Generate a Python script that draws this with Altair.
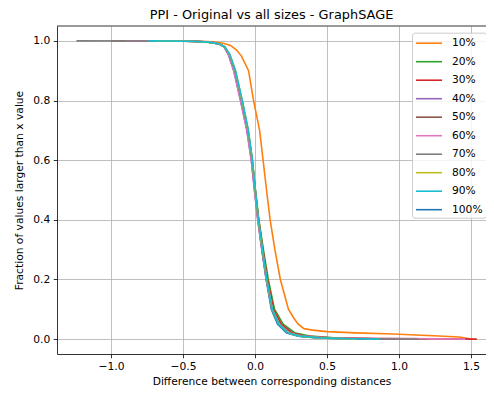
import altair as alt
import pandas as pd

SERIES = ["10%", "20%", "30%", "40%", "50%", "60%", "70%", "80%", "90%", "100%"]
COLORS = ["#ff7f0e", "#2ca02c", "#d62728", "#9467bd", "#8c564b",
          "#e377c2", "#7f7f7f", "#bcbd22", "#17becf", "#1f77b4"]
DRAW_ORDER = ["100%", "10%", "20%", "30%", "40%", "50%", "60%", "70%", "80%", "90%"]

X_TICKS = [-1.0, -0.5, 0.0, 0.5, 1.0, 1.5]
Y_TICKS = [0.0, 0.2, 0.4, 0.6, 0.8, 1.0]

X_10 = [-0.55, -0.38, -0.29, -0.22, -0.17, -0.13, -0.095, -0.045, -0.01, 0.032, 0.056, 0.08,
        0.105, 0.138, 0.176, 0.232, 0.27, 0.30, 0.34, 0.40, 0.50, 0.70, 0.96, 1.20, 1.42, 1.50]
Y_10 = [1.0, 0.999, 0.997, 0.992, 0.985, 0.97, 0.95, 0.9, 0.8, 0.7, 0.6, 0.5,
        0.4, 0.3, 0.2, 0.1, 0.07, 0.05, 0.035, 0.03, 0.025, 0.021, 0.017, 0.012, 0.007, 0.0]

X_20 = [-0.60, -0.42, -0.31, -0.25, -0.212, -0.18, -0.14, -0.093, -0.049, -0.019, 0.003,
        0.027, 0.058, 0.092, 0.135, 0.195, 0.28, 0.38, 0.55, 0.85, 1.20]
Y_20 = [1.0, 0.998, 0.995, 0.99, 0.98, 0.955, 0.9, 0.8, 0.7, 0.6, 0.5,
        0.4, 0.3, 0.2, 0.1, 0.05, 0.02, 0.01, 0.004, 0.001, 0.0]

X_30 = [-0.90, -0.55, -0.40, -0.30, -0.25, -0.212, -0.18, -0.14, -0.094, -0.05, -0.02, 0.002,
        0.025, 0.055, 0.087, 0.128, 0.182, 0.26, 0.35, 0.52, 0.85, 1.30, 1.54]
Y_30 = [1.0, 0.9995, 0.998, 0.995, 0.99, 0.98, 0.955, 0.9, 0.8, 0.7, 0.6, 0.5,
        0.4, 0.3, 0.2, 0.1, 0.05, 0.02, 0.01, 0.004, 0.002, 0.001, 0.0]

X_40 = [-0.80, -0.50, -0.38, -0.30, -0.25, -0.216, -0.186, -0.148, -0.101, -0.057, -0.026,
        -0.004, 0.019, 0.047, 0.078, 0.117, 0.165, 0.232, 0.31, 0.45, 0.70, 1.00]
Y_40 = [1.0, 0.9995, 0.998, 0.995, 0.99, 0.98, 0.955, 0.9, 0.8, 0.7, 0.6,
        0.5, 0.4, 0.3, 0.2, 0.1, 0.05, 0.02, 0.01, 0.004, 0.001, 0.0]

X_50 = [-1.00, -0.55, -0.40, -0.30, -0.25, -0.212, -0.182, -0.143, -0.097, -0.053, -0.023,
        -0.002, 0.021, 0.05, 0.081, 0.121, 0.17, 0.24, 0.32, 0.47, 0.75, 1.05]
Y_50 = [1.0, 0.9995, 0.998, 0.995, 0.99, 0.98, 0.955, 0.9, 0.8, 0.7, 0.6,
        0.5, 0.4, 0.3, 0.2, 0.1, 0.05, 0.02, 0.01, 0.004, 0.001, 0.0]

X_60 = [-0.90, -0.55, -0.40, -0.30, -0.25, -0.215, -0.185, -0.147, -0.10, -0.056, -0.026, -0.004,
        0.019, 0.048, 0.08, 0.12, 0.17, 0.24, 0.33, 0.50, 0.80, 1.20, 1.46]
Y_60 = [1.0, 0.9995, 0.998, 0.995, 0.99, 0.98, 0.955, 0.9, 0.8, 0.7, 0.6, 0.5,
        0.4, 0.3, 0.2, 0.1, 0.05, 0.02, 0.01, 0.004, 0.002, 0.001, 0.0]

X_70 = [-1.24, -0.60, -0.42, -0.31, -0.25, -0.212, -0.18, -0.14, -0.094, -0.05, -0.021,
        0.0, 0.022, 0.05, 0.08, 0.118, 0.166, 0.235, 0.32, 0.46, 0.70, 1.13]
Y_70 = [1.0, 0.9995, 0.998, 0.995, 0.99, 0.98, 0.955, 0.9, 0.8, 0.7, 0.6,
        0.5, 0.4, 0.3, 0.2, 0.1, 0.05, 0.02, 0.01, 0.004, 0.001, 0.0]

X_80 = [-0.70, -0.45, -0.32, -0.25, -0.21, -0.176, -0.136, -0.09, -0.047, -0.019, 0.001,
        0.023, 0.051, 0.081, 0.12, 0.166, 0.232, 0.31, 0.44, 0.70]
Y_80 = [1.0, 0.999, 0.996, 0.99, 0.98, 0.955, 0.9, 0.8, 0.7, 0.6, 0.5,
        0.4, 0.3, 0.2, 0.1, 0.05, 0.02, 0.01, 0.004, 0.0]

X_90 = [-0.74, -0.45, -0.32, -0.25, -0.21, -0.175, -0.135, -0.088, -0.046, -0.018, 0.002,
        0.024, 0.052, 0.082, 0.12, 0.165, 0.23, 0.31, 0.45, 0.65, 0.87]
Y_90 = [1.0, 0.999, 0.996, 0.99, 0.98, 0.955, 0.9, 0.8, 0.7, 0.6, 0.5,
        0.4, 0.3, 0.2, 0.1, 0.05, 0.02, 0.01, 0.004, 0.001, 0.0]

X_100 = [-0.45, -0.32, -0.25, -0.21, -0.178, -0.138, -0.09, -0.048, -0.02, 0.0,
         0.021, 0.048, 0.077, 0.113, 0.157, 0.22, 0.30, 0.43, 0.60, 0.80]
Y_100 = [1.0, 0.996, 0.99, 0.98, 0.955, 0.9, 0.8, 0.7, 0.6, 0.5,
         0.4, 0.3, 0.2, 0.1, 0.05, 0.02, 0.01, 0.004, 0.001, 0.0]

XS = {"10%": X_10, "20%": X_20, "30%": X_30, "40%": X_40, "50%": X_50,
      "60%": X_60, "70%": X_70, "80%": X_80, "90%": X_90, "100%": X_100}
YS = {"10%": Y_10, "20%": Y_20, "30%": Y_30, "40%": Y_40, "50%": Y_50,
      "60%": Y_60, "70%": Y_70, "80%": Y_80, "90%": Y_90, "100%": Y_100}

rows = []
for name in DRAW_ORDER:
    for xv, yv in zip(XS[name], YS[name]):
        rows.append({"series": name, "x": xv, "y": yv})
df = pd.DataFrame(rows)

FONT = "DejaVu Sans"
W = 429
H = 328

lines = alt.Chart(df).mark_line(strokeWidth=1.6, clip=True).encode(
    x=alt.X("x:Q",
            scale=alt.Scale(domain=[-1.375, 1.604], nice=False, zero=False),
            axis=alt.Axis(values=X_TICKS, format=".1f",
                          title="Difference between corresponding distances",
                          titlePadding=6)),
    y=alt.Y("y:Q",
            scale=alt.Scale(domain=[-0.05, 1.05], nice=False, zero=False),
            axis=alt.Axis(values=Y_TICKS, format=".1f",
                          title="Fraction of values larger than x value",
                          titlePadding=8)),
    color=alt.Color("series:N",
                    scale=alt.Scale(domain=SERIES, range=COLORS),
                    sort=SERIES,
                    legend=alt.Legend(title=None, orient="none", legendX=355, legendY=6.7,
                                      padding=3, fillColor="rgba(255,255,255,0.8)",
                                      strokeColor="#cccccc", cornerRadius=2.5,
                                      symbolType="M-2,0H2", symbolSize=169,
                                      symbolStrokeWidth=1.6, symbolOffset=6.5,
                                      labelOffset=15.5, rowPadding=5.5,
                                      labelFontSize=10.7, labelFont=FONT,
                                      labelColor="black")),
)

top_spine = alt.Chart(pd.DataFrame({"edge": ["top"]})).mark_rule(
    color="black", strokeWidth=0.8
).encode(x=alt.value(0), x2=alt.value(W), y=alt.value(0))

chart = alt.layer(lines, top_spine).properties(
    width=W,
    height=H,
    title=alt.TitleParams(text="PPI - Original vs all sizes - GraphSAGE",
                          fontSize=12.9, font=FONT, fontWeight="normal",
                          color="black", anchor="middle", frame="group",
                          offset=7, baseline="alphabetic", dy=13),
    autosize=alt.AutoSizeParams(type="none"),
    padding={"left": 49, "top": 18, "right": 0, "bottom": 34},
).configure_axis(
    grid=True, gridColor="#b0b0b0", gridWidth=0.8,
    domainColor="black", domainWidth=0.8,
    tickColor="black", tickWidth=0.8, tickSize=3.75,
    labelFont=FONT, labelFontSize=10.7, labelColor="black", labelPadding=3.5,
    titleFont=FONT, titleFontSize=10.7, titleFontWeight="normal", titleColor="black",
).configure_view(
    stroke="transparent",
)

chart.save("out.html", embed_options={"renderer": "svg", "actions": False})
